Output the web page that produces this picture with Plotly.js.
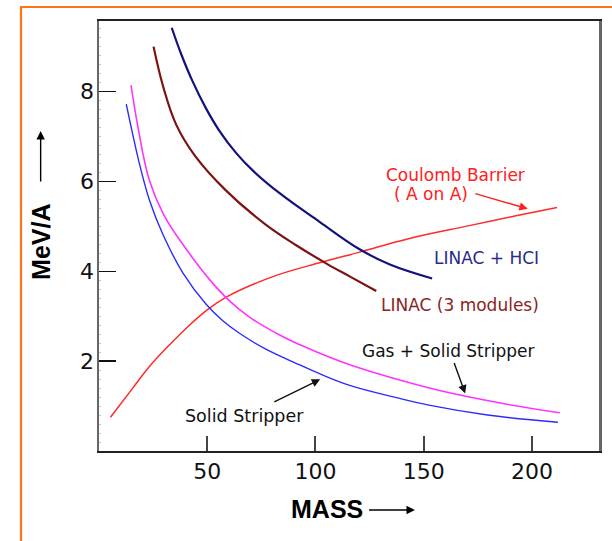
<!DOCTYPE html>
<html>
<head>
<meta charset="utf-8">
<script src="https://cdn.plot.ly/plotly-3.0.1.min.js"></script>
<style>html,body{margin:0;padding:0;background:#fff;} #chart{width:612px;height:541px;}</style>
</head>
<body>
<div id="chart"></div>
<script>
// LINAC + HCI
const hciMass = [33.6, 38.0, 43.3, 49.5, 55.7, 63.4, 71.1, 83.9, 101.9, 120, 134.4, 153.9];
const hciMeV  = [9.42, 8.83, 8.22, 7.62, 7.12, 6.63, 6.24, 5.72, 5.10, 4.50, 4.15, 3.84];
// LINAC (3 modules)
const linMass = [25.2, 29.7, 35.6, 44.2, 58.6, 76.7, 91.1, 105.5, 116.4, 128.1];
const linMeV  = [9.00, 8.10, 7.27, 6.58, 5.80, 5.05, 4.58, 4.16, 3.87, 3.56];
// Gas + Solid Stripper
const gasMass = [14.8, 18.0, 23.3, 30.0, 38.7, 51.0, 60.3, 69.5, 83.9, 92.6, 107.4, 115.8, 138.9, 161.4, 188.5, 212.9];
const gasMeV  = [8.14, 7.21, 6.02, 5.25, 4.60, 3.82, 3.34, 2.98, 2.57, 2.37, 2.07, 1.92, 1.58, 1.30, 1.04, 0.85];
// Solid Stripper
const solMass = [12.6, 15.3, 18.9, 23.4, 29.7, 38.8, 49.6, 57.2, 64.9, 77.3, 92.6, 101.9, 115.8, 138.9, 152.4, 179.5, 212.0];
const solMeV  = [7.72, 7.11, 6.35, 5.57, 4.80, 3.96, 3.26, 2.90, 2.62, 2.26, 1.92, 1.72, 1.46, 1.17, 1.02, 0.80, 0.64];
// Coulomb Barrier (A on A)
const cbMass = [5.3, 15.6, 23.3, 32.5, 41.8, 50.3, 58.6, 80.3, 101.9, 120, 143.4, 170.5, 192.1, 211.6];
const cbMeV  = [0.75, 1.40, 1.88, 2.36, 2.80, 3.15, 3.42, 3.88, 4.19, 4.42, 4.73, 5.01, 5.23, 5.42];

const xTicks = [50, 100, 150, 200];
const yTicks = [2, 4, 6, 8];

const FONT = 'DejaVu Sans, Verdana, sans-serif';
const BOLD = 'Liberation Sans, Arial, Helvetica, sans-serif';

function tr(x, y, color, width) {
  return {x: x, y: y, type: 'scatter', mode: 'lines',
    line: {color: color, width: width, shape: 'spline', smoothing: 1.1},
    hoverinfo: 'skip', showlegend: false};
}

const data = [
  tr(cbMass, cbMeV, '#ff2a2a', 1.5),
  tr(solMass, solMeV, '#2b2bff', 1.4),
  tr(gasMass, gasMeV, '#ff33ff', 1.6),
  tr(linMass, linMeV, '#7a1414', 2.2),
  tr(hciMass, hciMeV, '#12127a', 2.2)
];

function label(text, x, y, color, size) {
  return {text: text, x: x, y: y, xref: 'x', yref: 'y', showarrow: false,
    font: {family: FONT, size: size || 17, color: color}, xanchor: 'center', yanchor: 'middle'};
}
function arrow(x, y, ax, ay, color, xref, yref) {
  return {text: '', x: x, y: y, ax: ax, ay: ay, xref: xref || 'x', yref: yref || 'y',
    showarrow: true, arrowhead: 2, arrowsize: 1.2, arrowwidth: 1.4, arrowcolor: color, standoff: 0, startstandoff: 0};
}

const annotations = [
  label('Coulomb Barrier', 164.7, 6.14, '#ff2020'),
  label('( A on A)', 153.2, 5.73, '#ff2020'),
  arrow(198.1, 5.39, -54, -15.6, '#ff2020'),
  label('LINAC + HCI', 179.0, 4.30, '#2a2a8a'),
  label('LINAC (3 modules)', 167.0, 3.255, '#8a2424'),
  label('Gas + Solid Stripper', 161.5, 2.23, '#111'),
  arrow(169.2, 1.28, -11.6, -32.1, '#111'),
  label('Solid Stripper', 67.2, 0.777, '#111', 17.5),
  arrow(102.2, 1.596, -47.4, 23.4, '#111'),
  {text: '<b>MASS</b>', x: 0.4567, y: -0.136, xref: 'paper', yref: 'paper', showarrow: false,
    font: {family: BOLD, size: 25, color: '#000'}, xanchor: 'center', yanchor: 'middle'},
  arrow(0.6318, -0.1372, -47.3, 0, '#000', 'paper', 'paper'),
  {text: '<b>MeV/A</b>', x: -0.115, y: 0.485, xref: 'paper', yref: 'paper', showarrow: false, textangle: -90,
    font: {family: BOLD, size: 25, color: '#000'}, xanchor: 'center', yanchor: 'middle'},
  arrow(-0.1167, 0.744, 0, 52, '#000', 'paper', 'paper')
];

const layout = {
  width: 612, height: 541,
  margin: {l: 99, r: 13, t: 21, b: 90},
  paper_bgcolor: '#fff', plot_bgcolor: '#fff',
  showlegend: false,
  xaxis: {range: [0, 231], tickvals: xTicks, ticktext: xTicks.map(String),
    ticks: 'inside', ticklen: 15, tickwidth: 2, tickcolor: '#444',
    showline: true, mirror: true, linecolor: '#222', linewidth: 2,
    showgrid: false, zeroline: false, ticklabelstandoff: 0,
    tickfont: {family: FONT, size: 22, color: '#111'}},
  yaxis: {range: [0, 9.57], tickvals: yTicks, ticktext: yTicks.map(String),
    ticks: 'inside', ticklen: 17, tickwidth: 1.5, tickcolor: '#111',
    showline: true, mirror: true, linecolor: '#666', linewidth: 2.5,
    showgrid: false, zeroline: false, ticklabelstandoff: -2,
    minor: {dtick: 0.2, ticks: 'inside', ticklen: 2, tickcolor: '#c8c8c8', tickwidth: 1, showgrid: false},
    tickfont: {family: FONT, size: 22, color: '#111'}},
  shapes: [
    {type: 'rect', xref: 'paper', yref: 'paper', x0: -0.156, x1: 1.1, y0: -0.35, y1: 1.0326,
      line: {color: '#ff7418', width: 2.2}, fillcolor: 'rgba(0,0,0,0)', layer: 'below'}
  ],
  annotations: annotations
};

Plotly.newPlot('chart', data, layout, {displayModeBar: false, staticPlot: true});
</script>
</body>
</html>
